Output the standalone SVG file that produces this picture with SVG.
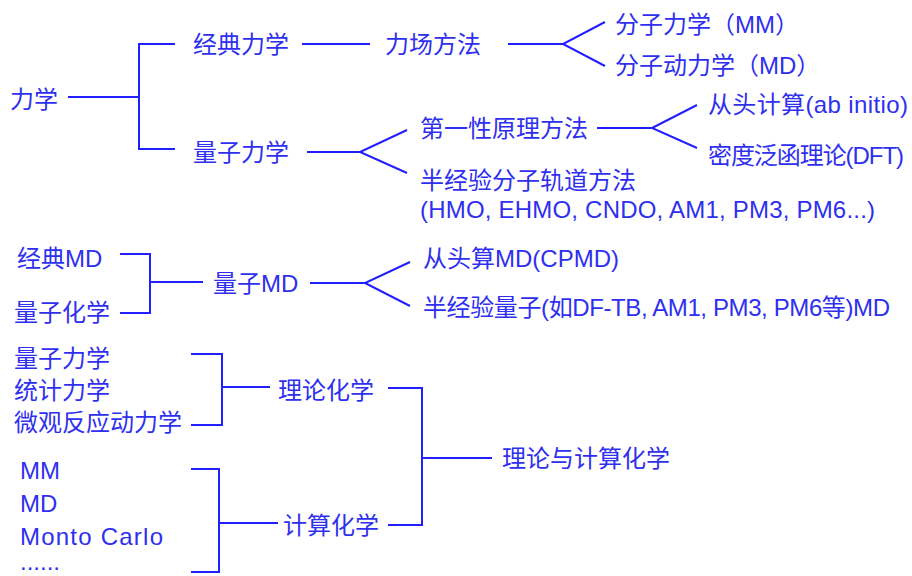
<svg xmlns="http://www.w3.org/2000/svg" width="912" height="576" viewBox="0 0 912 576">
<style>
text{font-family:"Liberation Sans","Noto Sans CJK SC",sans-serif;font-size:24px;fill:#2f2ff0}
.c path{fill:none;stroke:#1f1fff;stroke-width:2;stroke-linejoin:miter}
</style>
<rect width="912" height="576" fill="#ffffff"/>
<g class="c" id="connectors">
<path d="M68 97H139M175 44H139V149H175"/>
<path d="M302 44H370"/>
<path d="M508 44H563M605 22L563 44L605 66"/>
<path d="M307 152H360M407 130L360 152L407 173"/>
<path d="M597 128H652M697 105L652 128L697 148"/>
<path d="M120 254H150V313H120M150 282H203"/>
<path d="M310 283H365M410 262L365 283L410 306"/>
<path d="M191 354H222V425H191M222 387H270"/>
<path d="M191 469H219V572H191M219 523H278"/>
<path d="M388 388H422V525H388M422 458H492"/>
</g>
<g id="n-lixue"><text x="10" y="108">力学</text></g>
<g id="n-jingdian"><text x="193" y="53">经典力学</text></g>
<g id="n-lichang"><text x="385" y="53">力场方法</text></g>
<g id="n-mm"><text x="615" y="33">分子力学（MM）</text></g>
<g id="n-md"><text x="615" y="74">分子动力学（MD）</text></g>
<g id="n-liangzi"><text x="193" y="161">量子力学</text></g>
<g id="n-diyi"><text x="420" y="137">第一性原理方法</text></g>
<g id="n-abinitio"><text x="708" y="113" textLength="200">从头计算(ab initio)</text></g>
<g id="n-dft"><text x="708" y="164" textLength="196">密度泛函理论(DFT)</text></g>
<g id="n-banjingyan"><text x="420" y="189">半经验分子轨道方法</text><text x="420" y="218" textLength="455">(HMO, EHMO, CNDO, AM1, PM3, PM6...)</text></g>
<g id="n-jdmd"><text x="17" y="267">经典MD</text></g>
<g id="n-lzhx"><text x="14" y="321">量子化学</text></g>
<g id="n-lzmd"><text x="213" y="292">量子MD</text></g>
<g id="n-cpmd"><text x="423" y="267">从头算MD(CPMD)</text></g>
<g id="n-semimd"><text x="423" y="316" textLength="467">半经验量子(如DF-TB, AM1, PM3, PM6等)MD</text></g>
<g id="n-theory-src"><text x="14" y="367">量子力学</text><text x="14" y="399">统计力学</text><text x="14" y="431">微观反应动力学</text></g>
<g id="n-llhx"><text x="278" y="399">理论化学</text></g>
<g id="n-comp-src"><text x="20" y="479">MM</text><text x="20" y="512">MD</text><text x="20" y="545" textLength="143">Monto Carlo</text><text x="20" y="570">......</text></g>
<g id="n-jshx"><text x="283" y="534">计算化学</text></g>
<g id="n-root"><text x="502" y="467">理论与计算化学</text></g>
</svg>
